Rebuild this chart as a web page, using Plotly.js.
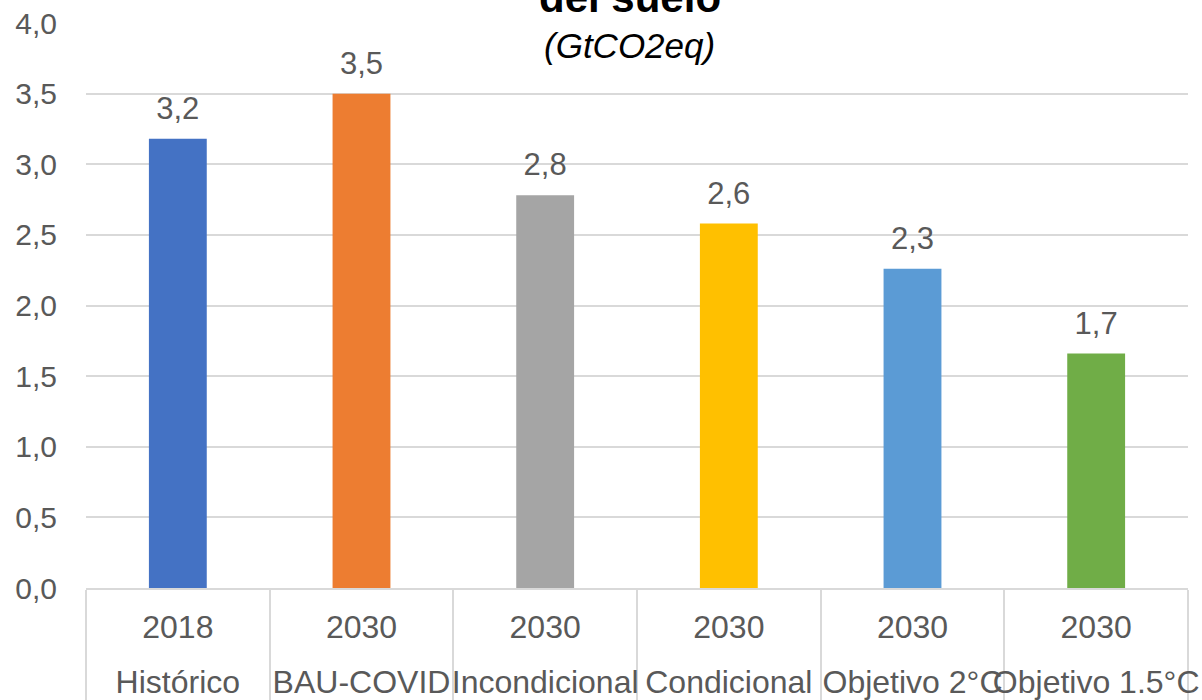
<!DOCTYPE html>
<html>
<head>
<meta charset="utf-8">
<script src="https://cdn.plot.ly/plotly-3.0.1.min.js"></script>
<style>html,body{margin:0;padding:0;background:#fff;}#chart{width:1202px;height:700px;}</style>
</head>
<body>
<div id="chart"></div>
<script>
const scenarios = ["Histórico", "BAU-COVID", "Incondicional", "Condicional", "Objetivo 2°C", "Objetivo 1.5°C"];
const years = ["2018", "2030", "2030", "2030", "2030", "2030"];
const values = [3.18, 3.50, 2.78, 2.58, 2.26, 1.66];
const barColors = ["#4472C4", "#ED7D31", "#A5A5A5", "#FFC000", "#5B9BD5", "#70AD47"];
const titleLine = "del suelo";
const subtitle = "(GtCO2eq)";

const FONT = "Liberation Sans, Arial, sans-serif";
const GREY = "#595959";

// spacer glyphs enlarge the first label row so the second row sits lower
const SP = "<span style='font-size:56px'>\u00a0</span>";
const innerLabels = years.map(y => SP + y + SP);
const xCats = [scenarios, innerLabels];

const bars = {
  type: "bar",
  x: xCats,
  y: values,
  marker: {color: barColors},
  hoverinfo: "none"
};

const labels = {
  type: "scatter",
  mode: "markers+text",
  x: xCats,
  y: values,
  text: values.map(v => v.toFixed(1).replace(".", ",")),
  textposition: "top center",
  textfont: {family: FONT, size: 31, color: GREY},
  marker: {size: 18, color: "rgba(0,0,0,0)"},
  cliponaxis: false,
  hoverinfo: "none"
};

const layout = {
  width: 1202,
  height: 700,
  margin: {l: 86, r: 14, t: 23, b: 112},
  paper_bgcolor: "#ffffff",
  plot_bgcolor: "#ffffff",
  separators: ",.",
  showlegend: false,
  bargap: 0.685,
  font: {family: FONT, color: GREY, size: 30},
  xaxis: {
    type: "multicategory",
    showgrid: false,
    showline: true,
    linecolor: "#D9D9D9",
    linewidth: 2,
    showdividers: true,
    dividercolor: "#D9D9D9",
    dividerwidth: 2,
    ticks: "",
    tickangle: 0,
    ticklabelstandoff: 10,
    tickfont: {family: FONT, size: 32, color: GREY}
  },
  yaxis: {
    range: [0, 4],
    dtick: 0.5,
    tickformat: ".1f",
    showgrid: true,
    gridcolor: "#D9D9D9",
    gridwidth: 2,
    zeroline: false,
    showline: false,
    ticks: "",
    ticklabelstandoff: 28,
    tickfont: {family: FONT, size: 30, color: GREY}
  },
  annotations: [
    {text: "<b>" + titleLine + "</b>", xref: "paper", yref: "paper", x: 0.4936, y: 1.0, xanchor: "center", yanchor: "bottom",
     showarrow: false, font: {family: FONT, size: 42, color: "#000000"}},
    {text: "<i>" + subtitle + "</i>", xref: "paper", yref: "paper", x: 0.4936, y: 0.961, xanchor: "center", yanchor: "middle",
     showarrow: false, font: {family: FONT, size: 35, color: "#000000"}}
  ]
};

Plotly.newPlot("chart", [bars, labels], layout, {staticPlot: true, displayModeBar: false});
</script>
</body>
</html>
